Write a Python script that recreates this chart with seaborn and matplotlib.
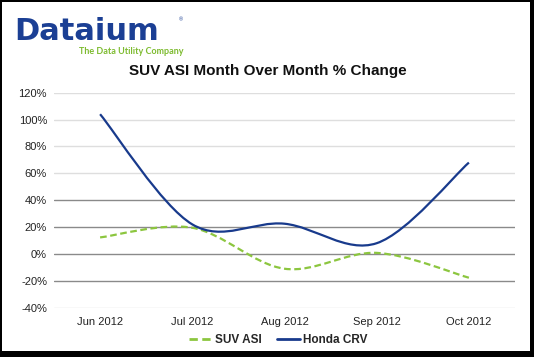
import numpy as np
import pandas as pd
import matplotlib
matplotlib.use('Agg')
import matplotlib.pyplot as plt
import seaborn as sns
from matplotlib.path import Path
from matplotlib.patches import PathPatch, Rectangle
from matplotlib.lines import Line2D

months = ['Jun 2012', 'Jul 2012', 'Aug 2012', 'Sep 2012', 'Oct 2012']
suv_asi = [12.3, 19.5, -11.0, 0.8, -17.7]
honda_crv = [104.0, 22.0, 22.5, 8.0, 68.0]
series_names = ['SUV ASI', 'Honda CRV']
y_ticks = [-40, -20, 0, 20, 40, 60, 80, 100, 120]

GREEN = '#8cc63f'
BLUE = '#183a8c'

df = pd.DataFrame({
    'month': months * 2,
    'value': suv_asi + honda_crv,
    'series': [series_names[0]] * len(months) + [series_names[1]] * len(months),
})


def smooth_path(xs, ys):
    # excel style smoothed line: cubic bezier through the points
    verts = [(xs[0], ys[0])]
    codes = [Path.MOVETO]
    n = len(xs)
    for i in range(n - 1):
        a = i - 1 if i > 0 else i
        b = i + 2 if i + 2 < n else i + 1
        c1 = (xs[i] + (xs[i + 1] - xs[a]) / 6, ys[i] + (ys[i + 1] - ys[a]) / 6)
        c2 = (xs[i + 1] - (xs[b] - xs[i]) / 6, ys[i + 1] - (ys[b] - ys[i]) / 6)
        verts += [c1, c2, (xs[i + 1], ys[i + 1])]
        codes += [Path.CURVE4] * 3
    return Path(verts, codes)


sns.set_theme(style='white')
plt.rcParams['font.family'] = ['Liberation Sans', 'DejaVu Sans']

W, H = 534, 357
fig = plt.figure(figsize=(W / 100, H / 100), dpi=100)
fig.patch.set_facecolor('white')
ax = fig.add_axes([54 / W, 1 - 307.7 / H, (515 - 54) / W, (307.7 - 92.7) / H])

palette = {series_names[0]: GREEN, series_names[1]: BLUE}
sns.lineplot(data=df, x='month', y='value', hue='series', hue_order=series_names,
             palette=palette, legend=False, ax=ax, sort=False)

styles = [dict(ls=(0, (3, 1.6)), color=GREEN), dict(ls='-', color=BLUE)]
for line, st in zip(list(ax.lines), styles):
    xy = line.get_xydata()
    patch = PathPatch(smooth_path(xy[:, 0], xy[:, 1]), fill=False, edgecolor=st['color'],
                      linewidth=1.6, linestyle=st['ls'], capstyle='butt', zorder=3)
    ax.add_patch(patch)
    line.remove()

ax.set_xlim(-0.5, len(months) - 0.5)
ax.set_ylim(-40, 120)
ax.set_yticks(y_ticks)
ax.set_yticklabels([f'{t}%' for t in y_ticks])
ax.set_xticks(range(len(months)))
ax.set_xticklabels(months)
ax.set_xlabel('')
ax.set_ylabel('')
for t in y_ticks:
    c = '#8a8a8a' if -20 <= t <= 40 else '#dedede'
    ax.axhline(t, color=c, lw=1.0, zorder=1)
for s in ax.spines.values():
    s.set_visible(False)
ax.tick_params(axis='both', length=0, labelsize=8, colors='#222222')
ax.tick_params(axis='y', pad=5)
ax.tick_params(axis='x', pad=7)

handles = [Line2D([], [], color=GREEN, lw=2, ls=(0, (3, 1.6))),
           Line2D([], [], color=BLUE, lw=2)]
leg = fig.legend(handles, series_names, loc='center', bbox_to_anchor=(278 / W, 1 - 340 / H),
                 ncol=2, frameon=False, handlelength=2.0, handletextpad=0.2,
                 columnspacing=1.3, prop={'weight': 'bold', 'size': 8.5})

fig.text(268 / W, 1 - 71 / H, 'SUV ASI Month Over Month % Change', ha='center', va='center',
         fontsize=11, fontweight='bold', color='#111111')

# logo
fig.text(14 / W, 1 - 39.5 / H, 'Dataium', ha='left', va='baseline', fontsize=22,
         fontweight='bold', color='#1b3f94', family=['DejaVu Sans'])
fig.text(179 / W, 1 - 20 / H, '\u00ae', ha='left', va='center', fontsize=4, color='#1b3f94')
fig.text(131 / W, 1 - 51.5 / H, 'The Data Utility Company', ha='center', va='center',
         fontsize=6.5, fontweight='bold', color='#7dbb2f', family=['Lato', 'DejaVu Sans'])

# black frame with thicker right/bottom edge
for x0, y0, w, h in [(0, 0, 2, H), (0, H - 2, W, 2), (W - 4, 0, 4, H), (0, 0, W, 6)]:
    fig.add_artist(Rectangle((x0 / W, y0 / H), w / W, h / H, transform=fig.transFigure,
                             color='black', lw=0))

fig.savefig('out.png', dpi=100)
